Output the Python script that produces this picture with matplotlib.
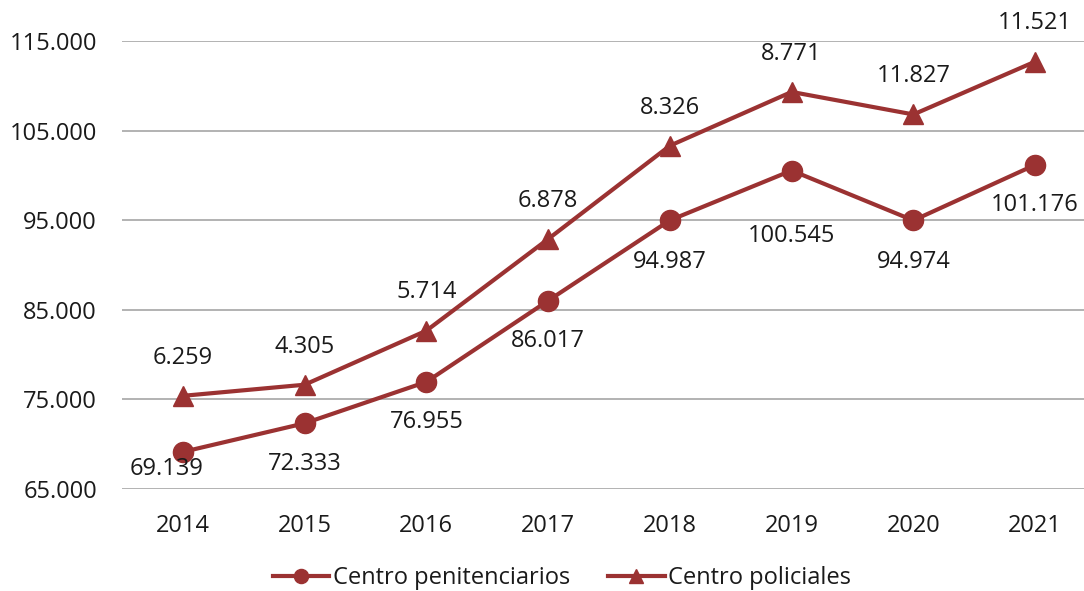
import matplotlib
matplotlib.use("Agg")
import matplotlib.pyplot as plt
from matplotlib.ticker import FuncFormatter

plt.rcParams['font.family'] = ['Open Sans', 'DejaVu Sans']

years = ['2014', '2015', '2016', '2017', '2018', '2019', '2020', '2021']
penitenciarios = [69139, 72333, 76955, 86017, 94987, 100545, 94974, 101176]
policiales = [6259, 4305, 5714, 6878, 8326, 8771, 11827, 11521]

# second line is stacked on top of the first
total = [a + b for a, b in zip(penitenciarios, policiales)]

def miles(v):
    return f'{v:,.0f}'.replace(',', '.')

red = '#9b3232'
txt = '#1a1a1a'

fig = plt.figure(figsize=(10.84, 5.91), dpi=100)
ax = fig.add_axes([122/1084, (591-489)/591, (1096-122)/1084, 448/591])

x = list(range(len(years)))
ax.plot(x, penitenciarios, color=red, lw=3, marker='o', ms=14.5,
        label='Centro penitenciarios', zorder=3)
ax.plot(x, total, color=red, lw=3, marker='^', ms=14.5,
        label='Centro policiales', zorder=3)

# label offsets in points (excel layout, a couple moved by hand)
pen_dx = [-12, 0, 0, 0, 0, 0, 0, 0]
pen_dy = [-12, -29, -29, -29, -30, -47, -30, -29]
for i in x:
    ax.annotate(miles(penitenciarios[i]), (i, penitenciarios[i]),
                xytext=(pen_dx[i], pen_dy[i]), textcoords='offset points',
                ha='center', va='center', fontsize=17, color=txt)
    ax.annotate(miles(policiales[i]), (i, total[i]),
                xytext=(0, 27.5), textcoords='offset points',
                ha='center', va='center', fontsize=17, color=txt,
                annotation_clip=False)

ax.set_xlim(-0.5, 7.5)
ax.set_ylim(65000, 115000)
ax.set_yticks(range(65000, 115001, 10000))
ax.yaxis.set_major_formatter(FuncFormatter(lambda v, p: miles(v)))
ax.set_xticks(x)
ax.set_xticklabels(years)
ax.tick_params(axis='both', length=0, labelsize=17, colors=txt)
ax.tick_params(axis='y', pad=18)
ax.tick_params(axis='x', pad=18)
ax.grid(axis='y', color='#a6a6a6', lw=1.2)
ax.set_axisbelow(True)
for s in ax.spines.values():
    s.set_visible(False)

fig.legend(loc='center', bbox_to_anchor=(562/1084, 1 - 578/591), ncol=2,
           frameon=False, fontsize=17, handlelength=2.4, handletextpad=0.15,
           columnspacing=1.6, markerscale=0.7, labelcolor=txt)

fig.savefig('out.png', dpi=100)
